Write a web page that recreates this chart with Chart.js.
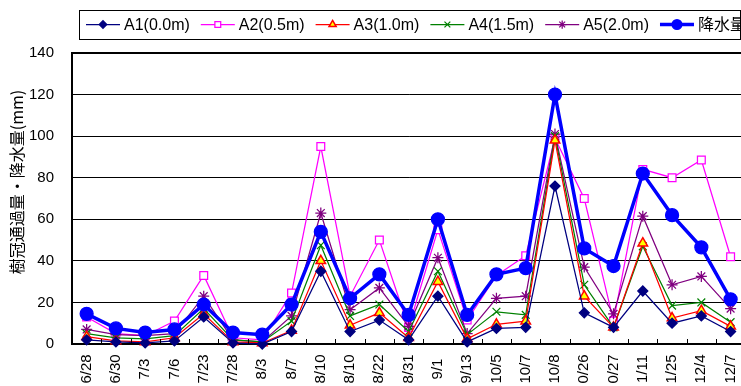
<!DOCTYPE html>
<html lang="ja">
<head>
<meta charset="UTF-8">
<title>樹冠通過量・降水量</title>
<script src="https://cdn.jsdelivr.net/npm/chart.js"></script>
<style>
  html, body { margin: 0; padding: 0; overflow: hidden; background: #fff; }
  canvas { display: block; }
</style>
</head>
<body>
<canvas id="rainChart" width="753" height="386"></canvas>
<script>
// observation dates (the long ones are cut off in the original picture)
const dates = ['6/28', '6/30', '7/3', '7/6', '7/23', '7/28', '8/3', '8/7', '8/10', '8/10', '8/22', '8/31',
               '9/1', '9/13', '10/5', '10/7', '10/8', '0/26', '0/27', '1/11', '1/25', '12/4', '12/7'];

// throughfall at each point (mm)
const a1 = [2, 1, 0.5, 1.5, 13, 0.5, 0, 6, 35, 6, 11.5, 2, 23, 1, 7.5, 8, 76, 15, 8, 25.5, 10, 13.5, 6];
const a2 = [13, 5, 4, 11, 33, 3, 2, 24.5, 95, 23, 50, 8, 55, 11.5, 33, 42.5, 99, 70, 11, 84, 80, 88.5, 42];
const a3 = [3.5, 1.5, 1, 3, 14.5, 1, 0.5, 6.5, 40, 9, 15, 3, 30, 2.5, 9.5, 11, 98, 23, 8, 48.5, 12.5, 16, 8.5];
const a4 = [5, 3, 2.5, 4, 17, 2, 1, 11, 47.5, 13.5, 19, 6, 35, 4.5, 15.5, 14, 100, 28.5, 8, 47, 18.5, 20, 10.5];
const a5 = [7, 4.5, 4, 5, 23, 2, 1, 13.5, 63, 16.5, 27, 8.5, 41.5, 5, 22, 23, 101, 37, 14.5, 61.5, 28.5, 32.5, 17];
// rainfall (mm)
const rain = [14.5, 7.5, 5.5, 7, 19, 5.5, 4.5, 19, 54, 22, 33.5, 14, 60, 14, 33.5, 36.5, 120, 46, 37.5, 82, 62, 46.5, 21.5];

const seriesNames = ['A1(0.0m)', 'A2(0.5m)', 'A3(1.0m)', 'A4(1.5m)', 'A5(2.0m)', '降水量'];
const yTitle = '樹冠通過量・降水量(mm)';

const latin = '"Liberation Sans", Arial, sans-serif';
const jp = '"Liberation Sans", "Noto Sans CJK JP", sans-serif';

function series(label, data, color, style, opts) {
    return Object.assign({
        label: label,
        data: data,
        borderColor: color,
        backgroundColor: color,
        borderWidth: 1.25,
        pointStyle: style,
        pointRadius: 5,
        pointBorderColor: color,
        pointBackgroundColor: color,
        pointBorderWidth: 1.25,
        tension: 0,
        clip: 10
    }, opts);
}

// legend box, category labels, axis title and inner tick marks
const decor = {
    id: 'decor',
    afterDraw(chart) {
        const ctx = chart.ctx;
        const xs = chart.scales.x;
        const area = chart.chartArea;
        ctx.save();

        ctx.strokeStyle = '#000';
        ctx.lineWidth = 1;
        for (let i = 1; i < dates.length; i++) {
            const px = Math.round((xs.getPixelForTick(i - 1) + xs.getPixelForTick(i)) / 2) + 0.5;
            ctx.beginPath();
            ctx.moveTo(px, area.bottom);
            ctx.lineTo(px, area.bottom - 5);
            ctx.stroke();
        }

        ctx.fillStyle = '#000';
        ctx.font = '15px ' + latin;
        ctx.textAlign = 'center';
        ctx.textBaseline = 'middle';
        dates.forEach((d, i) => {
            ctx.save();
            ctx.translate(xs.getPixelForTick(i), area.bottom + 25);
            ctx.rotate(-Math.PI / 2);
            ctx.fillText(d, 0, 0);
            ctx.restore();
        });

        ctx.save();
        ctx.font = '16px "Noto Sans CJK JP", sans-serif';
        ctx.translate(17, 182);
        ctx.rotate(-Math.PI / 2);
        ctx.fillText(yTitle, 0, 0);
        ctx.restore();

        // legend
        ctx.strokeStyle = '#000';
        ctx.lineWidth = 1;
        ctx.strokeRect(79.5, 10.5, 661, 29);
        ctx.font = '16px ' + jp;
        ctx.textAlign = 'left';
        let lx = 86;
        const ly = 24.5;
        chart.data.datasets.forEach(ds => {
            ctx.strokeStyle = ds.borderColor;
            ctx.lineWidth = ds.borderWidth;
            ctx.beginPath();
            ctx.moveTo(lx, ly);
            ctx.lineTo(lx + 34, ly);
            ctx.stroke();
            ctx.fillStyle = ds.pointBackgroundColor;
            ctx.strokeStyle = ds.pointBorderColor;
            ctx.lineWidth = ds.pointBorderWidth;
            Chart.helpers.drawPoint(ctx, {
                pointStyle: ds.pointStyle,
                radius: ds.pointRadius * 0.75,
                rotation: 0,
                borderWidth: ds.pointBorderWidth
            }, lx + 17, ly);
            ctx.fillStyle = '#000';
            ctx.fillText(ds.label, lx + 38, ly + 1);
            lx += 38 + ctx.measureText(ds.label).width + 11;
        });

        ctx.restore();
    }
};

const ctx = document.getElementById('rainChart').getContext('2d');
new Chart(ctx, {
    type: 'line',
    data: {
        labels: dates,
        datasets: [
            series(seriesNames[0], a1, '#000080', 'rectRot', { order: 1 }),
            series(seriesNames[1], a2, '#FF00FF', 'rect', { order: 5, pointBackgroundColor: '#FFFFFF', pointRadius: 5.5 }),
            series(seriesNames[2], a3, '#FF0000', 'triangle', { order: 2, pointBackgroundColor: '#FFFF00', pointRadius: 5.5, pointBorderWidth: 1.5 }),
            series(seriesNames[3], a4, '#008000', 'crossRot', { order: 3, pointRadius: 5.5 }),
            series(seriesNames[4], a5, '#800080', 'star', { order: 4, pointRadius: 5.5 }),
            series(seriesNames[5], rain, '#0000FF', 'circle', { order: 0, borderWidth: 3.5, pointRadius: 6.5 })
        ]
    },
    options: {
        responsive: false,
        animation: false,
        layout: { padding: { top: 53, right: 0, bottom: 34, left: 0 } },
        plugins: {
            legend: { display: false },
            tooltip: { enabled: false }
        },
        scales: {
            x: {
                offset: true,
                ticks: { display: false },
                grid: { display: false },
                border: { color: '#000', width: 2 }
            },
            y: {
                min: 0,
                max: 140,
                ticks: { stepSize: 20, color: '#000', padding: 18, font: { family: latin, size: 15 } },
                grid: {
                    color: '#000',
                    lineWidth: c => (c.tick && c.tick.value === 140 ? 2 : 1),
                    drawTicks: false
                },
                border: { color: '#000', width: 2 },
                afterFit: s => { s.width = 72; }
            }
        }
    },
    plugins: [decor]
});
</script>
</body>
</html>
